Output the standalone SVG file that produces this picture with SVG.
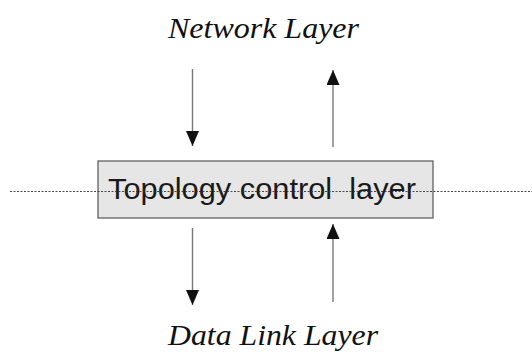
<svg xmlns="http://www.w3.org/2000/svg" width="532" height="352" viewBox="0 0 532 352">
  <style>
    .label { font-family: "Liberation Serif", "Times New Roman", serif; font-style: italic; font-size: 29px; fill: #111; }
    .box { fill: #e6e6e6; stroke: #555; stroke-width: 1.2; }
    .title { font-family: "Liberation Sans", Arial, sans-serif; font-size: 30px; fill: #1a1a1a; white-space: pre; }
    .flow { stroke: #777; stroke-width: 1.4; fill: none; marker-end: url(#head); }
    .axis { stroke: #333; stroke-width: 0.9; stroke-dasharray: 2 1.5; fill: none; }
  </style>
  <defs>
    <marker id="head" viewBox="0 0 15 13" refX="15" refY="6.5" markerWidth="15" markerHeight="13" markerUnits="userSpaceOnUse" orient="auto">
      <path d="M0,0 L15,6.5 L0,13 Z" fill="#111"/>
    </marker>
  </defs>

  <g id="network-layer">
    <text class="label" x="168" y="38" textLength="191" lengthAdjust="spacingAndGlyphs">Network Layer</text>
  </g>

  <g id="topology-control-layer">
    <rect class="box" x="98" y="161" width="335" height="57"/>
    <text class="title" x="108" y="199" textLength="308" lengthAdjust="spacingAndGlyphs" xml:space="preserve">Topology control  layer</text>
  </g>

  <g id="data-link-layer">
    <text class="label" x="168" y="345" textLength="210" lengthAdjust="spacingAndGlyphs">Data Link Layer</text>
  </g>

  <g id="connectors">
    <line class="axis" x1="10" y1="191.5" x2="532" y2="191.5"/>
    <line class="flow" x1="192.5" y1="69" x2="192.5" y2="146"/>
    <line class="flow" x1="333" y1="147" x2="333" y2="70"/>
    <line class="flow" x1="192.5" y1="228" x2="192.5" y2="305"/>
    <line class="flow" x1="333" y1="302" x2="333" y2="224"/>
  </g>
</svg>
